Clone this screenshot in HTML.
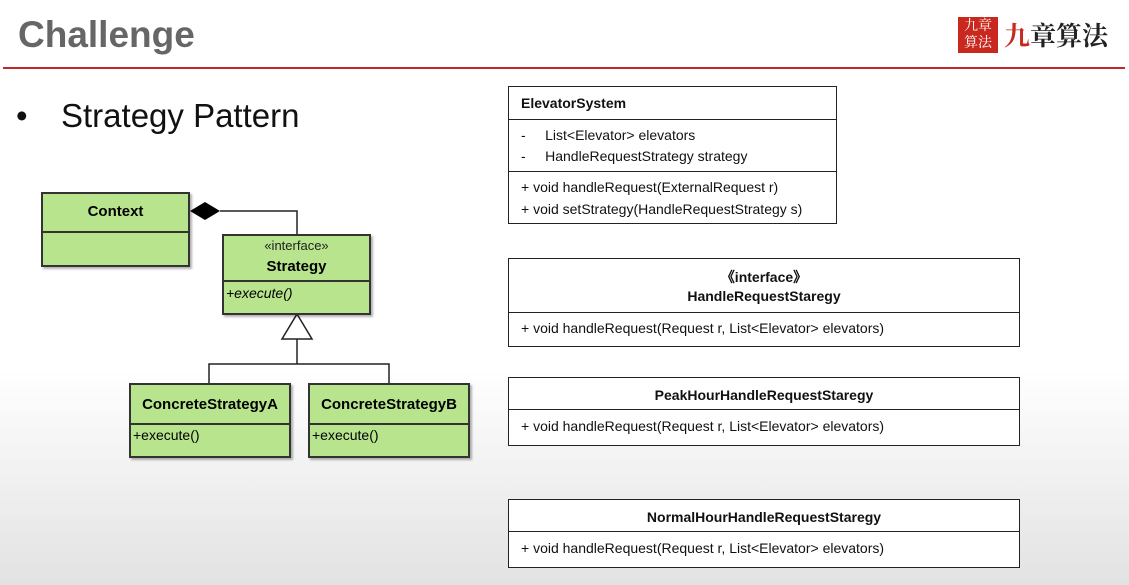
<!DOCTYPE html>
<html><head><style>
body{margin:0;width:1129px;height:585px;overflow:hidden;font-family:"Liberation Sans",sans-serif;background:linear-gradient(#fff 0,#fff 370px,#e2e2e2 585px);position:relative}
.a{position:absolute}
.g{position:absolute;background:#b7e48c;border:2px solid #333;box-sizing:border-box;box-shadow:2px 2px 2px rgba(0,0,0,.3)}
.hl{position:absolute;left:0;right:0;border-top:2px solid #333}
.w{position:absolute;background:#fff;border:1.5px solid #222;box-sizing:border-box;font-size:14px;color:#111}
.wl{position:absolute;left:0;right:0;border-top:1.5px solid #222}
</style></head><body>
<div class="a" style="left:18px;top:14px;font-size:37px;font-weight:bold;color:#666">Challenge</div>
<div class="a" style="left:958px;top:17px;width:40px;height:36px;background:#c8281e;color:#fff;font-family:'Noto Serif CJK SC',serif;font-size:14px;line-height:17px;text-align:center">九章<br>算法</div>
<div class="a" style="left:1004px;top:16px;font-family:'Noto Serif CJK SC',serif;font-size:26px;font-weight:bold;color:#222"><span style="color:#c8281e">九</span>章算法</div>
<div class="a" style="left:3px;top:67px;width:1122px;height:2px;background:#c0282a"></div>
<div class="a" style="left:16px;top:97px;font-size:33px;color:#111">•</div>
<div class="a" style="left:61px;top:97px;font-size:33px;color:#111">Strategy Pattern</div>

<svg class="a" style="left:0;top:0" width="1129" height="585">
<polygon points="190,211 205,202 220,211 205,220" fill="#000"/>
<polyline points="220,211 297,211 297,234" fill="none" stroke="#222" stroke-width="1.5"/>
<polygon points="297,314 312,339 282,339" fill="#fff" stroke="#222" stroke-width="1.5"/>
<polyline points="297,339 297,364" fill="none" stroke="#222" stroke-width="1.5"/>
<polyline points="209,383 209,364 389,364 389,383" fill="none" stroke="#222" stroke-width="1.5"/>
</svg>

<div class="g" style="left:41px;top:192px;width:149px;height:75px"><div class="a" style="left:0;right:0;top:9px;text-align:center;font-weight:bold;font-size:15px">Context</div><div class="hl" style="top:37px"></div></div>
<div class="g" style="left:222px;top:234px;width:149px;height:81px"><div class="a" style="left:0;right:0;top:2px;text-align:center;font-size:13px;color:#222">«interface»</div><div class="a" style="left:0;right:0;top:22px;text-align:center;font-weight:bold;font-size:15px">Strategy</div><div class="hl" style="top:44px"></div><div class="a" style="left:2px;top:49px;font-size:14px;font-style:italic">+execute()</div></div>
<div class="g" style="left:129px;top:383px;width:162px;height:75px"><div class="a" style="left:0;right:0;top:11px;text-align:center;font-weight:bold;font-size:15px">ConcreteStrategyA</div><div class="hl" style="top:38px"></div><div class="a" style="left:2px;top:42px;font-size:14px">+execute()</div></div>
<div class="g" style="left:308px;top:383px;width:162px;height:75px"><div class="a" style="left:0;right:0;top:11px;text-align:center;font-weight:bold;font-size:15px">ConcreteStrategyB</div><div class="hl" style="top:38px"></div><div class="a" style="left:2px;top:42px;font-size:14px">+execute()</div></div>

<div class="w" style="left:508px;top:86px;width:329px;height:138px">
<div class="a" style="left:12px;top:8px;font-weight:bold">ElevatorSystem</div>
<div class="wl" style="top:32px"></div>
<div class="a" style="left:12px;top:40px;white-space:pre">-     List&lt;Elevator&gt; elevators</div>
<div class="a" style="left:12px;top:61px;white-space:pre">-     HandleRequestStrategy strategy</div>
<div class="wl" style="top:84px"></div>
<div class="a" style="left:12px;top:92px">+ void handleRequest(ExternalRequest r)</div>
<div class="a" style="left:12px;top:114px">+ void setStrategy(HandleRequestStrategy s)</div>
</div>
<div class="w" style="left:508px;top:258px;width:512px;height:89px">
<div class="a" style="left:0;right:0;top:8px;text-align:center;font-weight:bold">《interface》</div>
<div class="a" style="left:0;right:0;top:29px;text-align:center;font-weight:bold">HandleRequestStaregy</div>
<div class="wl" style="top:53px"></div>
<div class="a" style="left:12px;top:61px">+ void handleRequest(Request r, List&lt;Elevator&gt; elevators)</div>
</div>
<div class="w" style="left:508px;top:377px;width:512px;height:69px">
<div class="a" style="left:0;right:0;top:9px;text-align:center;font-weight:bold">PeakHourHandleRequestStaregy</div>
<div class="wl" style="top:31px"></div>
<div class="a" style="left:12px;top:40px">+ void handleRequest(Request r, List&lt;Elevator&gt; elevators)</div>
</div>
<div class="w" style="left:508px;top:499px;width:512px;height:69px">
<div class="a" style="left:0;right:0;top:9px;text-align:center;font-weight:bold">NormalHourHandleRequestStaregy</div>
<div class="wl" style="top:31px"></div>
<div class="a" style="left:12px;top:40px">+ void handleRequest(Request r, List&lt;Elevator&gt; elevators)</div>
</div>
</body></html>
